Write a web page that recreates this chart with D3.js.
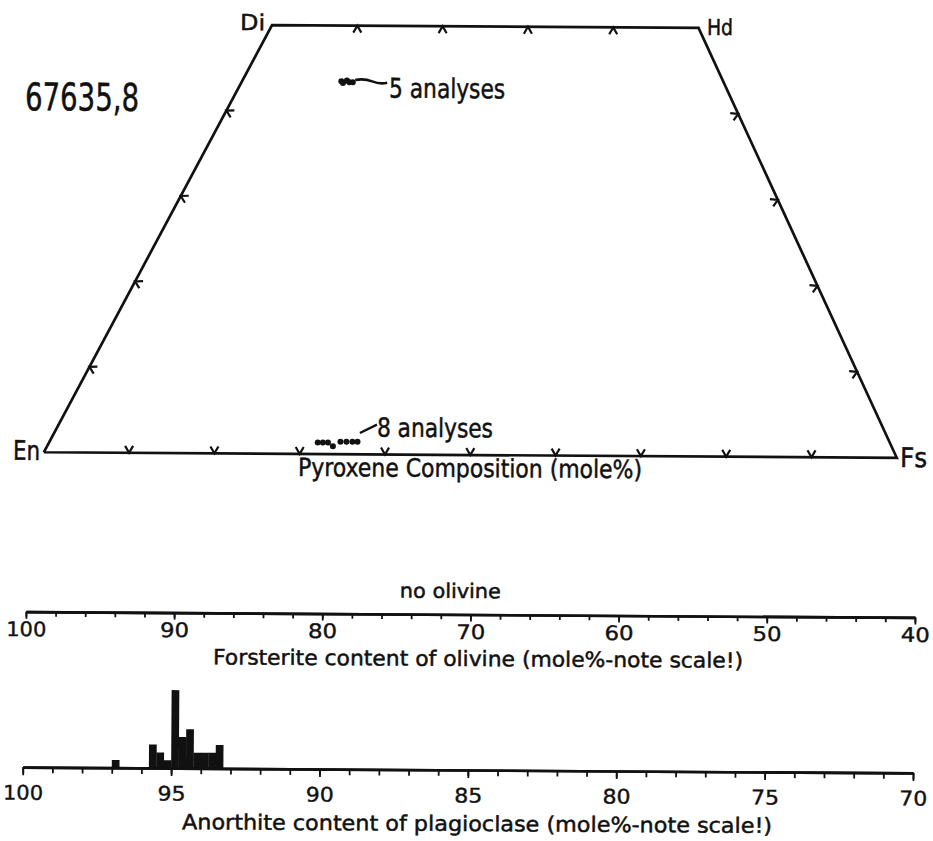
<!DOCTYPE html>
<html><head><meta charset="utf-8">
<script src="https://cdn.jsdelivr.net/npm/d3@7"></script>
<style>body{margin:0;background:#fff}svg{display:block}</style>
</head><body>
<script>
// ---------------- DATA ----------------
const sampleLabel = "67635,8";
const pyxCorners = [
  {name: "En", wo: 0,  fs: 0},
  {name: "Di", wo: 50, fs: 0},
  {name: "Hd", wo: 50, fs: 50},
  {name: "Fs", wo: 0,  fs: 100}
];
// high-Ca pyroxene (5 analyses)
const augiteWo = [43.5, 43.3, 43.6, 43.4, 43.4];
const augiteFs = [11.6, 11.9, 12.2, 12.6, 13.0];
// low-Ca pyroxene (8 analyses)
const lowCaWo = [1.34, 1.34, 1.34, 0.93, 1.46, 1.46, 1.46, 1.46];
const lowCaFs = [31.4, 32.0, 32.6, 33.4, 34.0, 34.7, 35.4, 36.0];
const bottomTickFs = [10, 20, 30, 40, 50, 60, 70, 80, 90];
const topTickFs = [10, 20, 30, 40];
const sideTickWo = [10, 20, 30, 40];
const annotations = ["5 analyses", "8 analyses"];
const pyxTitle = "Pyroxene Composition (mole%)";

const olivineNote = "no olivine";
const olivineMajorTicks = [100, 90, 80, 70, 60, 50, 40];
const olivineMinorTicks = d3.range(100, 39, -2);
const olivineTitle = "Forsterite content of olivine (mole%-note scale!)";

const plagMajorTicks = [100, 95, 90, 85, 80, 75, 70];
const plagMinorTicks = d3.range(100, 69, -1);
const anBinLow = [96.75, 95.5, 95.25, 95.0, 94.75, 94.5, 94.25, 94.0, 93.75, 93.5, 93.25];
const anCounts = [1, 3, 2, 1, 10, 4, 5, 2, 2, 2, 3];
const anBinWidth = 0.25;
const plagTitle = "Anorthite content of plagioclase (mole%-note scale!)";

// ---------------- LAYOUT ----------------
const W = 933, H = 841;
const FONT = "'DejaVu Sans', sans-serif";
const INK = "#111";

const svg = d3.select("body").append("svg").attr("width", W).attr("height", H);
svg.append("rect").attr("width", W).attr("height", H).attr("fill", "#fff");
const root = svg.append("g").attr("transform", "rotate(0.37,466,420)");

function label(txt, x, y, size, len) {
  const t = root.append("text").attr("x", x).attr("y", y)
    .attr("font-family", FONT).attr("font-size", size).attr("fill", INK)
    .attr("stroke", INK).attr("stroke-width", 0.5).text(txt);
  if (len) t.attr("textLength", len).attr("lengthAdjust", "spacingAndGlyphs");
  return t;
}

// ---- Pyroxene quadrilateral ----
const fsX = d3.scaleLinear().domain([0, 100]).range([44, 897]);
const woY = d3.scaleLinear().domain([0, 50]).range([455, 26.4]);
const skew = d3.scaleLinear().domain([0, 50]).range([0, 225.5]);
const P = d => [fsX(d.fs) + skew(d.wo), woY(d.wo)];

const cornerPts = pyxCorners.map(P);
root.append("path")
  .attr("d", d3.line()(cornerPts.concat([cornerPts[0]])))
  .attr("fill", "none").attr("stroke", INK).attr("stroke-width", 2.7)
  .attr("stroke-linejoin", "miter");

// inward V-ticks
function vTicks(points, nx, ny) {
  const len = 8, a = 30 * Math.PI / 180;
  const r = (x, y, ang) => [x * Math.cos(ang) - y * Math.sin(ang), x * Math.sin(ang) + y * Math.cos(ang)];
  const [ax, ay] = r(nx, ny, a), [bx, by] = r(nx, ny, -a);
  root.append("g").selectAll("path").data(points).join("path")
    .attr("d", p => `M${p[0] + ax * len},${p[1] + ay * len}L${p[0]},${p[1]}L${p[0] + bx * len},${p[1] + by * len}`)
    .attr("fill", "none").attr("stroke", INK).attr("stroke-width", 2.2);
}
function normalInward(a, b, sign) {
  const dx = b[0] - a[0], dy = b[1] - a[1], n = Math.hypot(dx, dy);
  return [sign * dy / n, -sign * dx / n];
}
const [En, Di, Hd, Fs] = cornerPts;
vTicks(bottomTickFs.map(f => P({fs: f, wo: 0})), 0, -1);
vTicks(topTickFs.map(f => P({fs: f, wo: 50})), 0, 1);
{ const n = normalInward(En, Di, -1); vTicks(sideTickWo.map(w => P({fs: 0, wo: w})), n[0], n[1]); }
{ const n = normalInward(Hd, Fs, -1); vTicks(sideTickWo.map(w => P({fs: 100 - w, wo: w})), n[0], n[1]); }

// corner labels
label("Di", 237.5, 31.5, 22, 25);
label("Hd", 704.5, 33.4, 22, 26);
label("En", 13.3, 462.8, 27, 27);
label("Fs", 900.3, 464.1, 27, 27);

// data points
const augite = augiteWo.map((w, i) => ({wo: w, fs: augiteFs[i]}));
const lowCa = lowCaWo.map((w, i) => ({wo: w, fs: lowCaFs[i]}));
root.append("g").selectAll("circle").data(augite.concat(lowCa)).join("circle")
  .attr("cx", d => P(d)[0]).attr("cy", d => P(d)[1]).attr("r", 3).attr("fill", INK);

// annotation leaders
root.append("path").attr("d", "M353,80.7 Q362,79 370,82 T385,83.2")
  .attr("fill", "none").attr("stroke", INK).attr("stroke-width", 2.6);
root.append("path").attr("d", "M360,433.7 L377,425.2")
  .attr("fill", "none").attr("stroke", INK).attr("stroke-width", 2.4);
label(annotations[0], 387, 98.1, 27, 116);
label(annotations[1], 377, 437.2, 26, 116);
label(pyxTitle, 298.4, 477, 25, 344);

// title
label(sampleLabel, 23, 113, 38, 114);

// ---- Olivine axis ----
const olY = 614.5;
const olX = d3.scaleLinear().domain([100, 40]).range([27.2, 916.2]);
function styleAxis(g, sw) {
  g.select(".domain").attr("stroke", INK).attr("stroke-width", sw);
  g.selectAll(".tick line").attr("stroke", INK).attr("stroke-width", 1.8);
}
const olMinor = root.append("g").attr("transform", `translate(0,${olY})`)
  .call(d3.axisBottom(olX).tickValues(olivineMinorTicks).tickSize(5).tickSizeOuter(0).tickFormat(""));
styleAxis(olMinor, 2.6);
const olMajor = root.append("g").attr("transform", `translate(0,${olY})`)
  .call(d3.axisBottom(olX).tickValues(olivineMajorTicks).tickSize(7).tickSizeOuter(0).tickFormat(d3.format("d")));
styleAxis(olMajor, 2.6);
olMajor.selectAll(".tick text").attr("y", 24.5).attr("dy", 0)
  .attr("font-family", FONT).attr("font-size", 20).attr("fill", INK)
  .attr("stroke", INK).attr("stroke-width", 0.4)
  .attr("textLength", d => d >= 100 ? 40 : 29).attr("lengthAdjust", "spacingAndGlyphs");
label(olivineNote, 401, 598, 20, 101);
label(olivineTitle, 214.6, 666, 21, 530);

// ---- Plagioclase axis + histogram ----
const plY = 770;
const plX = d3.scaleLinear().domain([100, 70]).range([25, 915.3]);
const countH = d3.scaleLinear().domain([0, 10]).range([0, 78]);
root.append("g").selectAll("rect").data(anBinLow.map((lo, i) => ({lo, c: anCounts[i]}))).join("rect")
  .attr("x", d => plX(d.lo + anBinWidth))
  .attr("width", d => plX(d.lo) - plX(d.lo + anBinWidth) + 0.3)
  .attr("y", d => plY - countH(d.c))
  .attr("height", d => countH(d.c))
  .attr("fill", INK);
const plMinor = root.append("g").attr("transform", `translate(0,${plY})`)
  .call(d3.axisBottom(plX).tickValues(plagMinorTicks).tickSize(6).tickSizeOuter(0).tickFormat(""));
styleAxis(plMinor, 2.6);
const plMajor = root.append("g").attr("transform", `translate(0,${plY})`)
  .call(d3.axisBottom(plX).tickValues(plagMajorTicks).tickSize(8).tickSizeOuter(0).tickFormat(d3.format("d")));
styleAxis(plMajor, 2.6);
plMajor.selectAll(".tick text").attr("y", 32.5).attr("dy", 0)
  .attr("font-family", FONT).attr("font-size", 20).attr("fill", INK)
  .attr("stroke", INK).attr("stroke-width", 0.4)
  .attr("textLength", d => d >= 100 ? 40 : 28).attr("lengthAdjust", "spacingAndGlyphs");
label(plagTitle, 184.7, 831, 21, 590);
</script>
</body></html>
